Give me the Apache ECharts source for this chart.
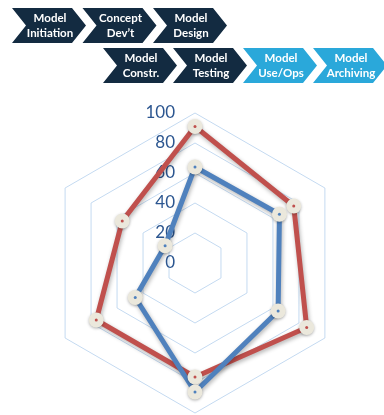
<!DOCTYPE html>
<html>
<head>
<meta charset="utf-8">
<script src="https://cdn.jsdelivr.net/npm/echarts@6/dist/echarts.min.js"></script>
<style>
  html, body { margin: 0; padding: 0; background: #fff; }
  #chart { width: 384px; height: 415px; }
</style>
</head>
<body>
<div id="chart"></div>
<script>
// radar axes, counter-clockwise from the top
const axes = ['A', 'B', 'C', 'D', 'E', 'F'];
const redValues = [91, 56, 76, 76, 86, 76];
const blueValues = [64, 23, 46, 86, 64, 65];
const radiusTicks = [0, 20, 40, 60, 80, 100];

// lifecycle stages drawn above the chart
const stagesRow1 = ['Model\nInitiation', 'Concept\nDev\u2019t', 'Model\nDesign'];
const stagesRow2 = ['Model\nConstr.', 'Model\nTesting', 'Model\nUse/Ops', 'Model\nArchiving'];
const stagesLit = ['Model\nUse/Ops', 'Model\nArchiving'];

const RED = '#c0504d';
const BLUE = '#4f81bd';
const CX = 195, CY = 263, R = 150;

function chevron(x0, y0, text) {
  const w = 74, d = 14, h = 35;
  const fill = stagesLit.indexOf(text) >= 0 ? '#2aa8da' : '#132b41';
  return [
    {
      type: 'polygon',
      shape: { points: [[x0, y0], [x0 + w - d, y0], [x0 + w, y0 + h / 2], [x0 + w - d, y0 + h], [x0, y0 + h], [x0 + d, y0 + h / 2]] },
      style: { fill: fill }
    },
    {
      type: 'text',
      x: x0 + w / 2 + 1,
      y: y0 + h / 2,
      style: {
        text: text,
        fill: '#fff',
        font: 'bold 11.5px Lato',
        lineHeight: 15,
        align: 'center',
        verticalAlign: 'middle'
      }
    }
  ];
}

const graphics = [];
stagesRow1.forEach(function (s, i) { graphics.push.apply(graphics, chevron(12 + i * 70.5, 8, s)); });
stagesRow2.forEach(function (s, i) { graphics.push.apply(graphics, chevron(103 + i * 70, 48, s)); });

const lineShadow = { shadowColor: 'rgba(0,0,0,0.3)', shadowBlur: 4, shadowOffsetX: 1, shadowOffsetY: 2 };

function mainSeries(values, color) {
  return {
    type: 'radar',
    symbol: 'circle',
    symbolSize: 15,
    lineStyle: Object.assign({ color: color, width: 5 }, lineShadow),
    itemStyle: { color: '#ebe8dc', shadowColor: 'rgba(0,0,0,0.3)', shadowBlur: 3, shadowOffsetY: 1 },
    data: [{ value: values }]
  };
}

function dotSeries(values, color) {
  return {
    type: 'radar',
    z: 5,
    symbol: 'circle',
    symbolSize: 3,
    silent: true,
    lineStyle: { width: 0, opacity: 0 },
    itemStyle: { color: color },
    data: [{ value: values }]
  };
}

const option = {
  animation: false,
  graphic: graphics,
  polar: { center: [CX, CY], radius: R },
  angleAxis: { show: false, startAngle: 90, min: 0, max: 360 },
  radiusAxis: {
    min: radiusTicks[0],
    max: radiusTicks[radiusTicks.length - 1],
    interval: 20,
    axisLine: { show: false },
    axisTick: { show: false },
    splitLine: { show: false },
    axisLabel: { margin: 20, color: '#2c5690', fontSize: 17, fontFamily: 'Lato' }
  },
  radar: {
    center: [CX, CY],
    radius: R,
    startAngle: 90,
    splitNumber: 5,
    shape: 'polygon',
    indicator: axes.map(function (n) { return { name: n, min: 0, max: 100 }; }),
    axisName: { show: false },
    axisLine: { show: false },
    axisTick: { show: false },
    axisLabel: { show: false },
    splitArea: { show: false },
    splitLine: { lineStyle: { color: '#c4daf1', width: 1 } }
  },
  series: [
    mainSeries(redValues, RED),
    mainSeries(blueValues, BLUE),
    dotSeries(redValues, RED),
    dotSeries(blueValues, BLUE)
  ]
};

const myChart = echarts.init(document.getElementById('chart'));
myChart.setOption(option);
</script>
</body>
</html>
